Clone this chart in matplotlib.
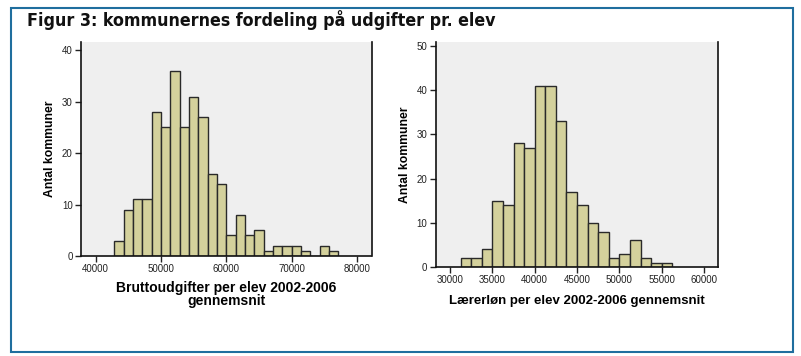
import numpy as np
import matplotlib
matplotlib.use('Agg')
import matplotlib.pyplot as plt
from matplotlib.patches import Rectangle

# left histogram: bruttoudgifter per elev
brutto_start = 42857
brutto_width = 10000 / 7
brutto_counts = [3, 9, 11, 11, 28, 25, 36, 25, 31, 27, 16, 14, 4, 8, 4, 5,
                 1, 2, 2, 2, 1, 0, 2, 1]
brutto_xticks = [40000, 50000, 60000, 70000, 80000]
brutto_yticks = [0, 10, 20, 30, 40]

# right histogram: laererloen per elev
loen_start = 31250
loen_width = 1250
loen_counts = [2, 2, 4, 15, 14, 28, 27, 41, 41, 33, 17, 14, 10, 8, 2, 3, 6,
               2, 1, 1]
loen_xticks = [30000, 35000, 40000, 45000, 50000, 55000, 60000]
loen_yticks = [0, 10, 20, 30, 40, 50]

title = 'Figur 3: kommunernes fordeling på udgifter pr. elev'
ylabel = 'Antal kommuner'

bar_color = '#d4d19c'
bg_color = '#efefef'

fig = plt.figure(figsize=(8.01, 3.56), dpi=100)

# blue frame around the figure
fig.add_artist(Rectangle((10.5 / 801, 1 - 352 / 356), 782 / 801, 344 / 356,
                         transform=fig.transFigure, fill=False,
                         edgecolor='#1f6e9e', linewidth=1.5))
fig.text(27 / 801, 1 - 20 / 356, title, fontsize=12.8,
         family=['DejaVu Sans'], stretch='condensed', weight='bold',
         va='center', ha='left', color='#111111')


def histo(ax, start, width, counts, xlim, ylim, xticks, yticks):
    edges = start + width * np.arange(len(counts))
    ax.set_facecolor(bg_color)
    # soft shadow behind bars
    ax.bar(edges + width * 0.06, counts, width=width, align='edge',
           color='#9a9a9a', edgecolor='none', zorder=1)
    ax.bar(edges, counts, width=width, align='edge', color=bar_color,
           edgecolor='#2a2a2a', linewidth=1.0, zorder=2)
    ax.set_xlim(*xlim)
    ax.set_ylim(*ylim)
    ax.set_xticks(xticks)
    ax.set_yticks(yticks)
    ax.tick_params(labelsize=7, length=4, width=1, color='#222222',
                   labelcolor='#222222', pad=2)
    ax.spines['top'].set_visible(False)
    for s in ['left', 'bottom', 'right']:
        ax.spines[s].set_color('#111111')
        ax.spines[s].set_linewidth(1.2)
    ax.set_ylabel(ylabel, fontsize=8.7, weight='bold', family='Liberation Sans',
                  labelpad=4)
    for lab in ax.get_xticklabels() + ax.get_yticklabels():
        lab.set_family('Liberation Sans')


ax1 = fig.add_axes([81 / 801, 100 / 356, 290.5 / 801, 214 / 356])
histo(ax1, brutto_start, brutto_width, brutto_counts, (37750, 82240),
      (0, 41.6), brutto_xticks, brutto_yticks)
ax1.set_xlabel('Bruttoudgifter per elev 2002-2006\ngennemsnit', fontsize=10,
               weight='bold', family='Liberation Sans', linespacing=0.9,
               labelpad=5)

ax2 = fig.add_axes([435.7 / 801, 89 / 356, 282.3 / 801, 225 / 356])
histo(ax2, loen_start, loen_width, loen_counts, (28311, 61652),
      (0, 50.9), loen_xticks, loen_yticks)
ax2.set_xlabel('Lærerløn per elev 2002-2006 gennemsnit', fontsize=9.5,
               weight='bold', family='Liberation Sans', labelpad=7)

plt.savefig('out.png', dpi=100)
